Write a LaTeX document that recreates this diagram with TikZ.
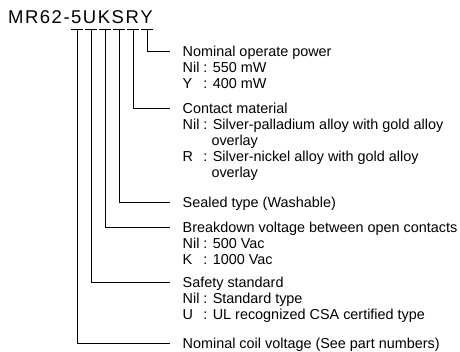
\documentclass[tikz,border=0pt]{standalone}
\usepackage{fontspec}
\setmainfont{Liberation Sans}
\newcommand{\pre}[1]{\makebox[20.8pt][l]{#1}: }
\newcommand{\cont}{\hspace*{28.8pt}}
\newcommand{\ks}{\kern1.5pt }
\begin{document}
\begin{tikzpicture}[x=1pt,y=-1pt,
  lab/.style={anchor=west, inner xsep=12.5pt, inner ysep=0pt, text height=10.3pt, text depth=0pt, font=\fontsize{14.4}{16}\selectfont},
  conn/.style={draw=black, line width=0.8pt},
  tbar/.style={draw=black, line width=0.8pt}]
\useasboundingbox (0,0) rectangle (460,352);
\node[anchor=base west, inner sep=0pt, font=\fontsize{18.5}{20}\selectfont] (title) at (8,23.5)
  {M\ks R\ks 6\ks 2\ks -\ks 5\ks U\ks K\ks S\ks R\ks Y};
% letter marks
\coordinate (c5) at (77,29);
\coordinate (cU) at (91,29);
\coordinate (cK) at (105,29);
\coordinate (cS) at (119,29);
\coordinate (cR) at (133,29);
\coordinate (cY) at (147,29);
\foreach \c in {c5,cU,cK,cS,cR,cY}{
  \draw[tbar] ([xshift=-6pt]\c) -- ([xshift=6pt]\c);
}
% labels
\node[lab] (power) at (170,51) {Nominal operate power};
\node[lab] (power1) at (170,67) {\pre{Nil}550 mW};
\node[lab] (power2) at (170,83) {\pre{Y}400 mW};
\node[lab] (contact) at (170,108) {Contact material};
\node[lab] (contact1) at (170,124) {\pre{Nil}Silver-palladium alloy with gold alloy};
\node[lab] (contact2) at (170,140) {\cont overlay};
\node[lab] (contact3) at (170,156) {\pre{R}Silver-nickel alloy with gold alloy};
\node[lab] (contact4) at (170,172) {\cont overlay};
\node[lab] (sealed) at (170,202) {Sealed type (Washable)};
\node[lab] (brk) at (170,227) {Breakdown voltage between open contacts};
\node[lab] (brk1) at (170,243) {\pre{Nil}500 Vac};
\node[lab] (brk2) at (170,259) {\pre{K}1000 Vac};
\node[lab] (safety) at (170,282) {Safety standard};
\node[lab] (safety1) at (170,298) {\pre{Nil}Standard type};
\node[lab] (safety2) at (170,314) {\pre{U}UL recognized CSA certified type};
\node[lab] (coil) at (170,343) {Nominal coil voltage (See part numbers)};
% connectors
\draw[conn] (cY) |- (power.west);
\draw[conn] (cR) |- (contact.west);
\draw[conn] (cS) |- (sealed.west);
\draw[conn] (cK) |- (brk.west);
\draw[conn] (cU) |- (safety.west);
\draw[conn] (c5) |- (coil.west);
\end{tikzpicture}
\end{document}
